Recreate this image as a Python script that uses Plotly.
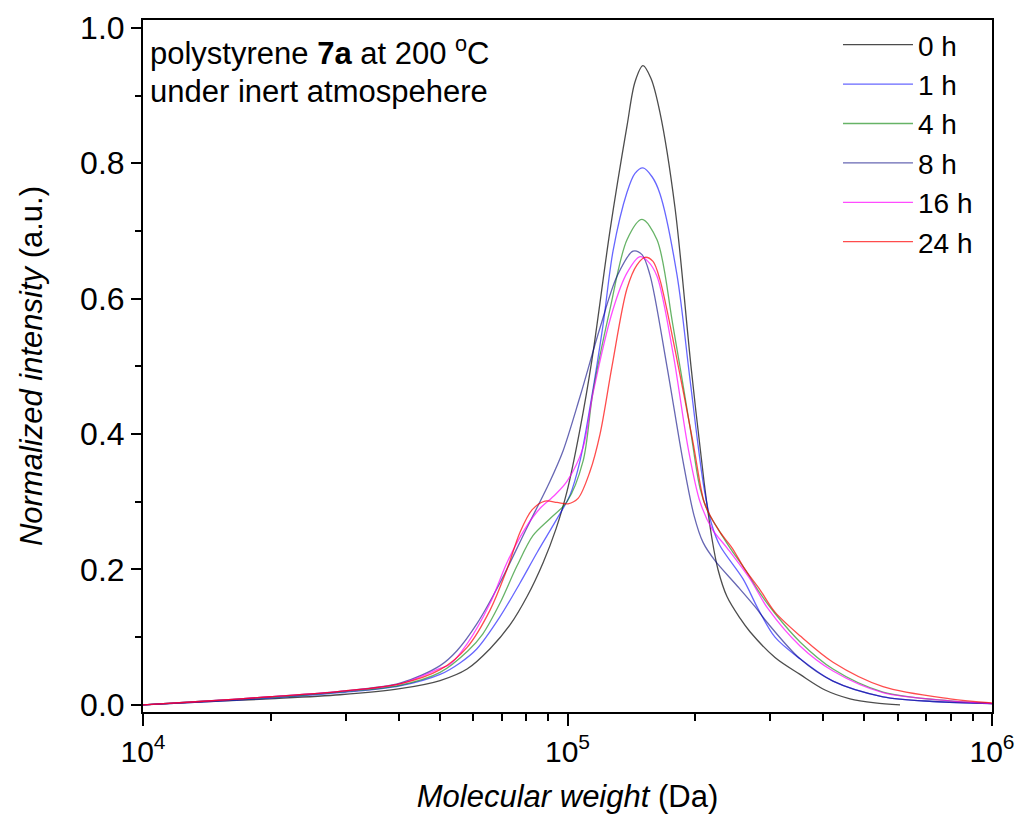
import plotly.graph_objects as go

# Molecular weight in kDa and normalized intensity
mw_0h = [10, 13.6, 19.9, 29.1, 40.3, 50.1, 58.0, 65.7, 73.2, 80.3, 87.6, 93.96, 99.7, 107.0, 114.2, 125.9, 138.1, 144.2,
         150.6, 157.3, 165.1, 179.1, 195.4, 209.7, 219.0, 226.2, 237.5, 254.9, 269.1, 308.2, 353.0, 404.3,
         462.9, 530.2, 607.2]
int_0h = [0.0, 0.004, 0.009, 0.015, 0.024, 0.036, 0.053, 0.083, 0.118, 0.16, 0.21, 0.26, 0.315, 0.407, 0.51, 0.70, 0.855, 0.92,
          0.944, 0.925, 0.875, 0.735, 0.50, 0.33, 0.245, 0.20, 0.16, 0.128, 0.108, 0.07, 0.045, 0.022,
          0.009, 0.003, 0.0]

mw_1h = [10, 13.6, 19.9, 29.1, 40.3, 50.1, 55.8, 61.2, 69.3, 77.3, 84.8, 94.5, 101.4, 107.0, 113.0, 121.2,
         128.0, 138.1, 144.2, 150.6, 158.2, 165.1, 181.1, 194.4, 209.7, 219.0, 228.7, 259.1, 281.1, 308.2,
         353.0, 422.1, 553.6, 726.1, 1000]
int_1h = [0.0, 0.004, 0.010, 0.018, 0.028, 0.045, 0.062, 0.083, 0.13, 0.18, 0.225, 0.275, 0.31, 0.36, 0.44, 0.56,
          0.67, 0.757, 0.785, 0.793, 0.78, 0.755, 0.635, 0.48, 0.32, 0.265, 0.235, 0.186, 0.142, 0.10,
          0.068, 0.035, 0.012, 0.005, 0.002]

mw_4h = [10, 13.6, 19.9, 29.1, 40.3, 50.1, 58.3, 63.2, 69.3, 76.0, 82.9, 90.9, 99.7, 108.8, 114.8, 125.9,
         138.1, 149.8, 162.5, 177.2, 194.4, 205.2, 214.3, 226.2, 241.4, 261.9, 284.1, 308.2, 353.0, 422.1,
         553.6, 796.3, 1000]
int_4h = [0.0, 0.005, 0.011, 0.019, 0.029, 0.048, 0.08, 0.105, 0.15, 0.205, 0.25, 0.275, 0.30, 0.36, 0.462, 0.584,
          0.687, 0.717, 0.687, 0.56, 0.41, 0.32, 0.285, 0.26, 0.232, 0.20, 0.165, 0.135, 0.093, 0.053,
          0.019, 0.006, 0.002]

mw_8h = [10, 13.6, 19.9, 29.1, 40.3, 50.1, 54.9, 61.2, 69.3, 80.3, 90.9, 97.6, 107.0, 119.3, 130.8, 142.7,
         149.8, 156.4, 171.5, 187.1, 198.6, 208.6, 222.6, 250.8, 276.5, 295.1, 353.0, 422.1, 553.6, 726.1, 1000]
int_8h = [0.0, 0.005, 0.012, 0.020, 0.032, 0.058, 0.08, 0.12, 0.18, 0.262, 0.33, 0.375, 0.455, 0.557, 0.633, 0.670,
          0.665, 0.635, 0.50, 0.36, 0.28, 0.24, 0.213, 0.176, 0.145, 0.122, 0.068, 0.035, 0.012, 0.005, 0.002]

mw_16h = [10, 13.6, 19.9, 29.1, 40.3, 50.1, 52.9, 58.0, 65.7, 72.0, 79.4, 86.1, 93.4, 99.7, 108.8, 114.8,
          128.0, 138.1, 148.2, 154.7, 162.5, 177.2, 192.3, 205.2, 219.0, 237.5, 269.1, 296.7, 353.0, 422.1,
          553.6, 796.3, 1000]
int_16h = [0.0, 0.005, 0.012, 0.020, 0.031, 0.054, 0.06, 0.09, 0.15, 0.21, 0.26, 0.29, 0.31, 0.33, 0.38, 0.46,
           0.584, 0.638, 0.662, 0.655, 0.633, 0.52, 0.38, 0.30, 0.26, 0.232, 0.186, 0.142, 0.087, 0.05,
           0.018, 0.006, 0.002]

mw_24h = [10, 13.6, 19.9, 29.1, 40.3, 50.1, 58.0, 65.7, 72.0, 77.3, 82.5, 88.5, 94.5, 100.3, 105.9, 113.0,
          119.3, 127.3, 138.1, 145.8, 152.3, 159.0, 165.1, 181.1, 197.5, 209.7, 216.6, 228.7, 244.1, 261.9,
          284.1, 308.2, 353.0, 422.1, 553.6, 796.3, 1000]
int_24h = [0.0, 0.005, 0.012, 0.020, 0.031, 0.052, 0.085, 0.14, 0.20, 0.255, 0.288, 0.301, 0.299, 0.297, 0.305, 0.345,
           0.40, 0.50, 0.615, 0.65, 0.661, 0.655, 0.628, 0.51, 0.388, 0.30, 0.28, 0.255, 0.232, 0.20,
           0.17, 0.137, 0.102, 0.063, 0.027, 0.009, 0.003]

series_names = ["0 h", "1 h", "4 h", "8 h", "16 h", "24 h"]
series_mw = [mw_0h, mw_1h, mw_4h, mw_8h, mw_16h, mw_24h]
series_int = [int_0h, int_1h, int_4h, int_8h, int_16h, int_24h]
colors = ["rgba(0,0,0,0.7)", "rgba(0,0,255,0.6)", "rgba(0,128,0,0.6)",
          "rgba(0,0,128,0.6)", "rgba(255,0,255,0.7)", "rgba(255,0,0,0.7)"]

x_tickvals = [1e4, 1e5, 1e6]
x_ticktext = ["10<sup>4</sup>", "10<sup>5</sup>", "10<sup>6</sup>"]
y_tickvals = [0.0, 0.2, 0.4, 0.6, 0.8, 1.0]
y_ticktext = ["0.0", "0.2", "0.4", "0.6", "0.8", "1.0"]

FONT = "Liberation Sans, Arial, sans-serif"

fig = go.Figure()
for name, mw, inten, col in zip(series_names, series_mw, series_int, colors):
    fig.add_trace(go.Scatter(
        x=[m * 1000 for m in mw], y=inten, mode="lines", name=name,
        legendgroup=name,
        line=dict(color=col, width=1.3, shape="spline", smoothing=0.9),
    ))

fig.update_layout(
    width=1018, height=825,
    margin=dict(l=143, r=26, t=20, b=113, autoexpand=False),
    paper_bgcolor="white", plot_bgcolor="white",
    font=dict(family=FONT, size=28, color="black"),
    showlegend=True,
    legend=dict(x=0.8186, y=1.0, xanchor="left", yanchor="top",
                bgcolor="rgba(0,0,0,0)", font=dict(size=28),
                tracegroupgap=0, itemwidth=70),
    annotations=[
        dict(text="polystyrene <b>7a</b> at 200 <sup>o</sup>C", xref="paper", yref="paper",
             x=0.006, y=0.955, xanchor="left", yanchor="middle", showarrow=False,
             font=dict(size=31)),
        dict(text="under inert atmospehere", xref="paper", yref="paper",
             x=0.006, y=0.896, xanchor="left", yanchor="middle", showarrow=False,
             font=dict(size=31)),
    ],
)

fig.update_xaxes(
    type="log", range=[4, 6], automargin=False,
    tickvals=x_tickvals, ticktext=x_ticktext,
    ticks="outside", ticklen=12, tickwidth=2, tickcolor="black",
    minor=dict(ticks="outside", ticklen=7, tickwidth=1.5, tickcolor="black", dtick="D1", showgrid=False),
    showline=True, linewidth=2, linecolor="black", mirror=True,
    showgrid=False, zeroline=False,
    tickfont=dict(size=30),
    title=dict(text="<i>Molecular weight</i> (Da)", font=dict(size=31), standoff=18),
)
fig.update_yaxes(
    range=[-0.0105, 1.0115], automargin=False,
    tickvals=y_tickvals, ticktext=y_ticktext,
    ticks="outside", ticklen=10, tickwidth=2, tickcolor="black",
    minor=dict(ticks="outside", ticklen=6, tickwidth=1.5, tickcolor="black",
               tickvals=[0.1, 0.3, 0.5, 0.7, 0.9], showgrid=False),
    showline=True, linewidth=2, linecolor="black", mirror=True,
    showgrid=False, zeroline=False,
    tickfont=dict(size=32),
    title=dict(text="<i>Normalized intensity</i> (a.u.)", font=dict(size=31), standoff=28),
)

fig.write_html("out.html", config={"displayModeBar": False},
               post_script="document.body.style.margin='0px';")
